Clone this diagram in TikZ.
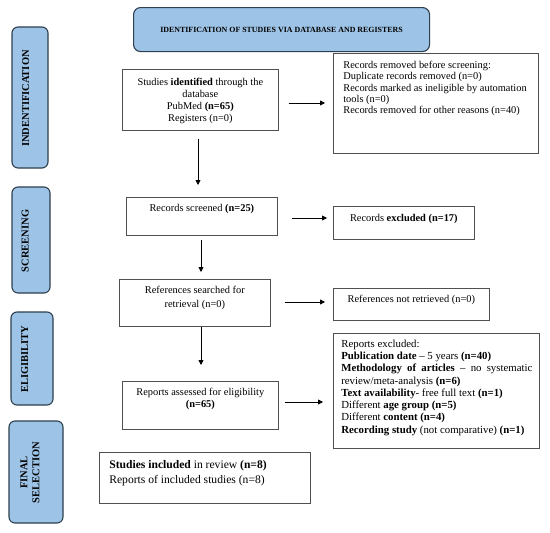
\documentclass[tikz,border=0pt]{standalone}
\usepackage{fontspec}
\setmainfont{Liberation Serif}
\usetikzlibrary{arrows.meta}
\definecolor{sideblue}{HTML}{9DC3E6}
\definecolor{sideedge}{HTML}{2E3F4F}
\definecolor{boxedge}{HTML}{505050}
% #1 box width, #2 box height, #3 left pad, #4 text width, #5 content
\newcommand\bxt[5]{\makebox[#1][l]{\hspace*{#3}\parbox[c][#2][t]{#4}{\parindent=0pt #5}}}
\newcommand\fsz[2]{\fontsize{#1}{#2}\selectfont}
\begin{document}
\begin{tikzpicture}[x=1pt,y=-1pt,
  box/.style={draw=boxedge, line width=0.7pt, inner sep=0pt, anchor=north west},
  sidebox/.style={draw=sideedge, fill=sideblue, line width=1.1pt, rounded corners=6pt, inner sep=0pt},
  sidelabel/.style={rotate=90, font=\fsz{10.5}{12}\bfseries, inner sep=0pt},
  arr/.style={-{Triangle[length=5pt,width=5pt]}, line width=0.8pt, draw=black}
]
\useasboundingbox (0,0) rectangle (550,533);
\fill[white] (0,0) rectangle (550,533);

% banner
\node[sidebox, rounded corners=7pt, minimum width=296pt, minimum height=44pt, anchor=north west,
      font=\fsz{7.9}{9}\bfseries] (banner) at (133,7) {IDENTIFICATION OF STUDIES VIA DATABASE AND REGISTERS};

% side boxes
\node[sidebox, minimum width=36pt, minimum height=141pt] (sIdent) at (30,97.5) {};
\node[sidebox, minimum width=38pt, minimum height=106pt] (sScreen) at (31,240) {};
\node[sidebox, minimum width=42pt, minimum height=93pt] (sElig) at (32,358.5) {};
\node[sidebox, minimum width=54pt, minimum height=102pt] (sFinal) at (36,472) {};
\node[sidelabel, anchor=base] (lIdent) at (29,98.5) {INDENTIFICATION};
\node[sidelabel, anchor=base] (lScreen) at (28.5,241) {SCREENING};
\node[sidelabel, anchor=base] (lElig) at (28,359) {ELIGIBILITY};
\node[sidelabel, align=center, anchor=center] (lFinal) at (30,472.5) {FINAL\\SELECTION};

% main boxes
\node[box] (ident) at (122,69) {\bxt{156pt}{61pt}{0pt}{156pt}{\centering\fsz{10.4}{11.9}\rule{0pt}{16pt}Studies \textbf{identified} through the\\database\\PubMed \textbf{(n=65)}\\Registers (n=0)}};

\node[box] (removed) at (333,53) {\bxt{205pt}{100pt}{10pt}{192pt}{\raggedright\fsz{10.4}{11.1}\rule{0pt}{15.5pt}Records removed before screening:\\Duplicate records removed (n=0)\\Records marked as ineligible by automation\\tools (n=0)\\Records removed for other reasons (n=40)}};

\node[box] (screened) at (126,197) {\bxt{151pt}{38pt}{0pt}{151pt}{\centering\fsz{10.4}{11.9}\rule{0pt}{14.5pt}Records screened \textbf{(n=25)}}};

\node[box] (excluded) at (333,206) {\bxt{141pt}{33pt}{0pt}{141pt}{\centering\fsz{10.4}{11.9}\rule{0pt}{15.5pt}Records \textbf{excluded (n=17)}}};

\node[box] (refs) at (119,279) {\bxt{151pt}{47pt}{0pt}{151pt}{\centering\fsz{10.4}{14}\rule{0pt}{14.5pt}References searched for\\retrieval (n=0)}};

\node[box] (notret) at (333,288) {\bxt{156pt}{32pt}{0pt}{156pt}{\centering\fsz{10.4}{11.9}\rule{0pt}{14.5pt}References not retrieved (n=0)}};

\node[box] (repexcl) at (333,333) {\bxt{206pt}{115pt}{8pt}{191pt}{\fsz{10.8}{12.24}\rule{0pt}{14pt}Reports excluded:\par
\textbf{Publication date} -- 5 years \textbf{(n=40)}\par
\textbf{Methodology of articles} -- no systematic\linebreak review/meta-analysis \textbf{(n=6)}\par
\textbf{Text availability}- free full text \textbf{(n=1)}\par
Different \textbf{age group (n=5)}\par
Different \textbf{content (n=4)}\par
\textbf{Recording study} (not comparative) \textbf{(n=1)}\par}};

\node[box] (assessed) at (122,381) {\bxt{156pt}{48pt}{0pt}{156pt}{\centering\fsz{10.4}{12}\rule{0pt}{14.5pt}Reports assessed for eligibility\\\textbf{(n=65)}}};

\node[box] (included) at (99,452) {\bxt{211pt}{51pt}{10pt}{198pt}{\raggedright\fsz{11.6}{15}\rule{0pt}{16pt}\textbf{Studies included} in review \textbf{(n=8)}\\Reports of included studies (n=8)}};

% arrows
\draw[arr, shorten <=8pt, shorten >=12pt] (ident.south -| 198,0) -- (screened.north -| 198,0);
\draw[arr, shorten <=4pt, shorten >=7pt] (screened.south -| 201,0) -- (refs.north -| 201,0);
\draw[arr, shorten <=0pt, shorten >=16pt] (refs.south -| 201,0) -- (assessed.north -| 201,0);
\draw[arr, shorten <=10pt, shorten >=8pt] (ident.east |- 0,103) -- (removed.west |- 0,103);
\draw[arr, shorten <=14pt, shorten >=6pt] (screened.east |- 0,218) -- (excluded.west |- 0,218);
\draw[arr, shorten <=14pt, shorten >=8pt] (refs.east |- 0,302) -- (notret.west |- 0,302);
\draw[arr, shorten <=6pt, shorten >=10pt] (assessed.east |- 0,402) -- (repexcl.west |- 0,402);
\end{tikzpicture}
\end{document}
